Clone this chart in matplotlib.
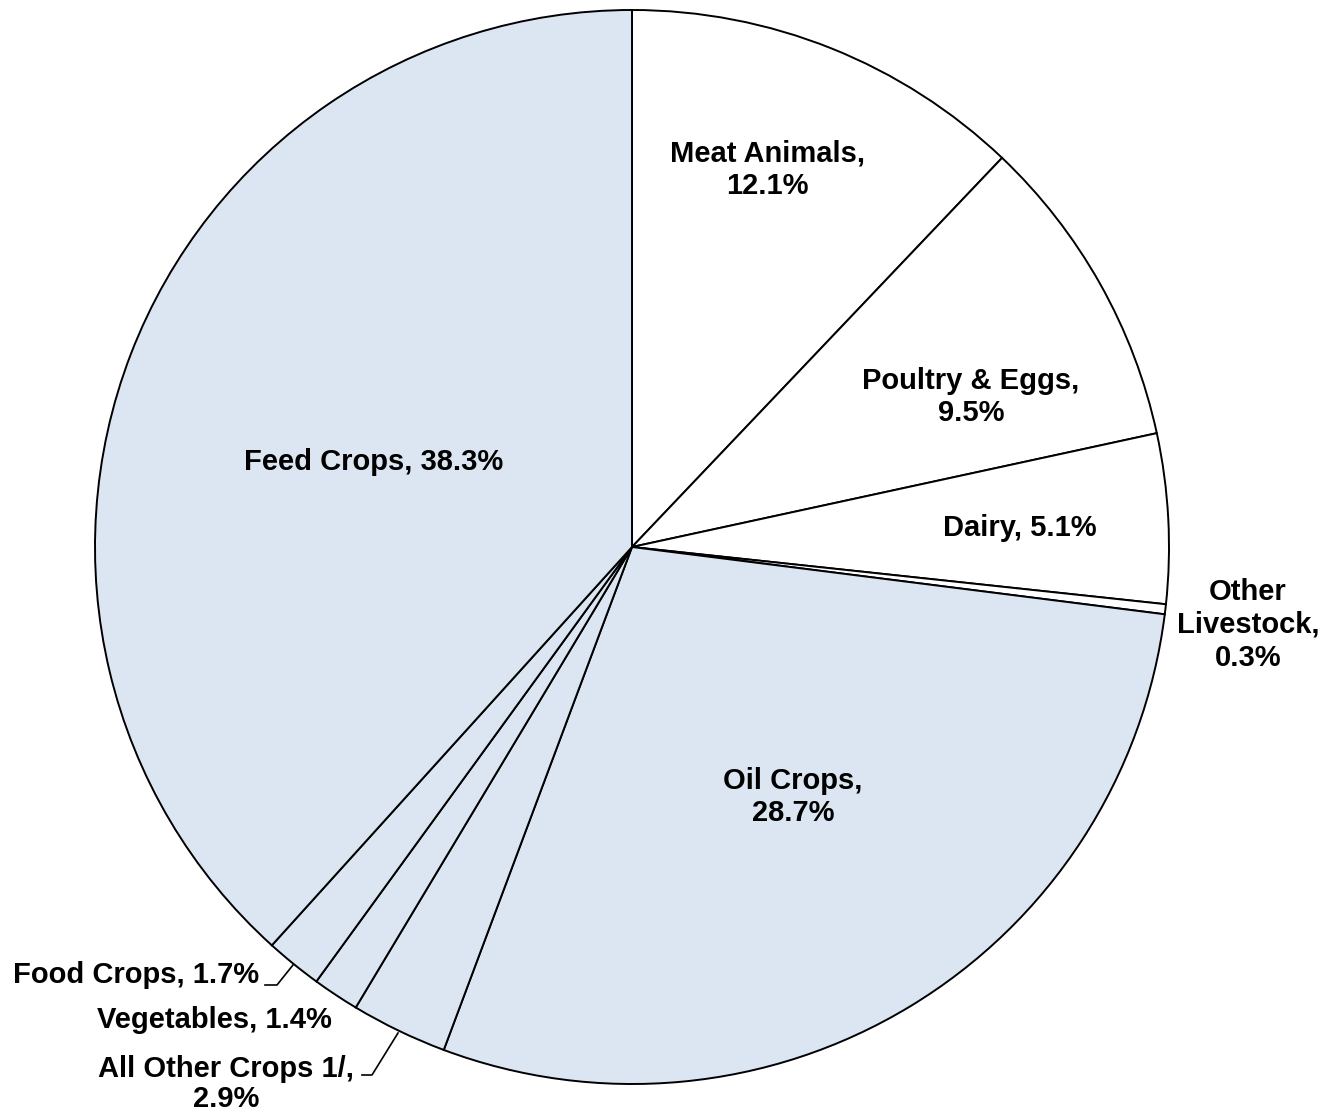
import matplotlib.pyplot as plt

categories = ["Meat Animals", "Poultry & Eggs", "Dairy", "Other Livestock",
              "Oil Crops", "All Other Crops 1/", "Vegetables", "Food Crops",
              "Feed Crops"]
shares = [12.1, 9.5, 5.1, 0.3, 28.7, 2.9, 1.4, 1.7, 38.3]
is_crop = [False, False, False, False, True, True, True, True, True]
labels = ["Meat Animals,\n12.1%", "Poultry & Eggs,\n9.5%", "Dairy, 5.1%",
          "Other\nLivestock,\n0.3%", "Oil Crops,\n28.7%",
          "All Other Crops 1/,\n2.9%", "Vegetables, 1.4%",
          "Food Crops, 1.7%", "Feed Crops, 38.3%"]

plt.rcParams["font.family"] = ["Liberation Sans", "DejaVu Sans"]

W, H = 1335, 1113
cx, cy, R = 632, 547, 537

fig = plt.figure(figsize=(W / 100, H / 100), dpi=100)
ax = fig.add_axes([(cx - R) / W, (H - cy - R) / H, 2 * R / W, 2 * R / H])

colors = ["#dce6f2" if c else "white" for c in is_crop]
ax.pie(shares, colors=colors, startangle=90, counterclock=False, radius=1,
       wedgeprops=dict(edgecolor="black", linewidth=1.4))
ax.set_xlim(-1, 1)
ax.set_ylim(-1, 1)
ax.set_aspect("equal")
ax.axis("off")


def px(x, y):
    return (x - cx) / R, (cy - y) / R


# label positions in pixel coords of the original layout (x, y, ha, spacing)
label_pos = {
    "Meat Animals": (767, 170, "center", 1.22),
    "Poultry & Eggs": (971, 397, "center", 1.22),
    "Dairy": (1020, 528, "center", 1.22),
    "Other Livestock": (1248, 625, "center", 1.22),
    "Oil Crops": (793, 797, "center", 1.22),
    "Feed Crops": (374, 462, "center", 1.22),
    "Food Crops": (259, 975, "right", 1.22),
    "Vegetables": (214, 1020, "center", 1.22),
    "All Other Crops 1/": (226, 1084, "center", 1.1),
}
for cat, lab in zip(categories, labels):
    x, y, ha, ls = label_pos[cat]
    tx, ty = px(x, y)
    ax.text(tx, ty, lab, ha=ha, va="center", fontsize=21, fontweight="bold",
            linespacing=ls, clip_on=False)

# leader lines
for pts in [[(265, 985), (277, 985), (293, 965)],
            [(362, 1075), (372, 1075), (398, 1033)]]:
    xs, ys = zip(*[px(*p) for p in pts])
    ax.plot(xs, ys, color="black", linewidth=1.2, clip_on=False)

fig.savefig("out.png", dpi=100)
